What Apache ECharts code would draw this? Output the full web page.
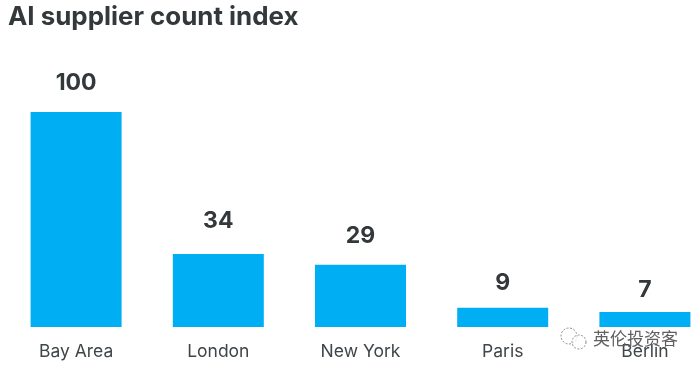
<!DOCTYPE html>
<html><head><meta charset="utf-8">
<style>html,body{margin:0;padding:0;background:#fff}#c{width:700px;height:369px}</style>
<script src="https://cdn.jsdelivr.net/npm/echarts@6/dist/echarts.min.js"></script>
</head><body><div id="c"></div>
<script>
const categories = ["Bay Area","London","New York","Paris","Berlin"];
const values = [100,34,29,9,7];
const labelGaps = [17,21,17,13,10];
const chart = echarts.init(document.getElementById('c'),null,{renderer:'canvas'});
const ring = (cx,cy,r)=>({type:'circle',shape:{cx,cy,r},style:{fill:'rgba(255,255,255,0.75)',stroke:'#8a8a8a',lineWidth:1,lineDash:[2,1.5]},z:20});
chart.setOption({
  animation:false,
  title:{text:"AI supplier count index",left:8,top:4,padding:0,textStyle:{fontFamily:"Inter",fontSize:25.9,fontWeight:700,color:"#33383b"}},
  grid:{left:5,width:711,top:112,bottom:42,outerBoundsMode:'none'},
  xAxis:{type:'category',data:categories,axisLine:{show:false},axisTick:{show:false},
    axisLabel:{margin:16,fontFamily:"Inter",fontSize:17.5,color:"#3f4548",interval:0,hideOverlap:false}},
  yAxis:{type:'value',min:0,max:100,show:false},
  series:[{type:'bar',data:values.map((v,i)=>({value:v,label:{distance:labelGaps[i]}})),barWidth:91,itemStyle:{color:"#00aef3"},
    label:{show:true,position:'top',fontFamily:"Inter",fontSize:23,fontWeight:700,color:"#33383b"}}],
  graphic:[
    ring(569,336,8),ring(579,342,7),
    {type:'text',x:593,y:330,z:20,style:{text:"英伦投资客",font:'17px "Noto Sans CJK SC"',fill:"#606060"}}
  ]
});
</script></body></html>
